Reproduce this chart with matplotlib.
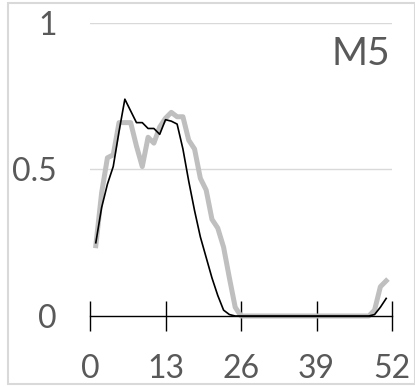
import matplotlib
matplotlib.use("Agg")
import matplotlib.pyplot as plt
from matplotlib.patches import Rectangle

weeks = list(range(1, 52))
gray_vals = [0.24, 0.42, 0.54, 0.55, 0.66, 0.66, 0.66, 0.58, 0.51, 0.61,
             0.59, 0.645, 0.675, 0.695, 0.68, 0.68, 0.60, 0.57, 0.47, 0.43,
             0.33, 0.30, 0.235, 0.13, 0.03, 0.0, 0.0, 0.0, 0.0, 0.0,
             0.0, 0.0, 0.0, 0.0, 0.0, 0.0, 0.0, 0.0, 0.0, 0.0,
             0.0, 0.0, 0.0, 0.0, 0.0, 0.0, 0.0, 0.0, 0.02, 0.10, 0.12]
black_vals = [0.25, 0.37, 0.45, 0.51, 0.63, 0.74, 0.70, 0.66, 0.66, 0.64,
              0.64, 0.62, 0.67, 0.665, 0.655, 0.57, 0.46, 0.36, 0.27, 0.20,
              0.13, 0.07, 0.02, 0.005, 0.0, 0.0, 0.0, 0.0, 0.0, 0.0,
              0.0, 0.0, 0.0, 0.0, 0.0, 0.0, 0.0, 0.0, 0.0, 0.0,
              0.0, 0.0, 0.0, 0.0, 0.0, 0.0, 0.0, 0.0, 0.005, 0.03, 0.06]
x_ticks = [0, 13, 26, 39, 52]
y_ticks = [0, 0.5, 1]
y_tick_labels = ["0", "0.5", "1"]
panel_label = "M5"

plt.rcParams['font.family'] = ['Lato', 'DejaVu Sans']

W, H = 415, 387
fig = plt.figure(figsize=(W / 100, H / 100), dpi=100)
fig.patches.append(Rectangle((8 / W, 3 / H), 1 - 8 / W - 0.5 / W, 1 - 6 / H,
                             transform=fig.transFigure, fill=False,
                             edgecolor='#d9d9d9', linewidth=1.5))

ax = fig.add_axes([90 / W, (H - 316) / H, (392 - 90) / W, (316 - 23) / H])
ax.set_xlim(0, 52)
ax.set_ylim(0, 1)
for s in ['top', 'right', 'left']:
    ax.spines[s].set_visible(False)
ax.spines['bottom'].set_color('black')
ax.spines['bottom'].set_linewidth(1.0)

for yv in [0.5, 1.0]:
    ax.axhline(yv, color='#d9d9d9', linewidth=1.0, zorder=0)

ax.plot(weeks, gray_vals, color='#bfbfbf', linewidth=3.6, zorder=2,
        solid_joinstyle='round', clip_on=False)
ax.plot(weeks, black_vals, color='black', linewidth=1.2, zorder=3, clip_on=False)

ax.set_xticks(x_ticks)
ax.set_xticklabels([str(v) for v in x_ticks])
ax.set_yticks(y_ticks)
ax.set_yticklabels(y_tick_labels)
ax.tick_params(axis='x', direction='inout', length=22, width=1.0, color='black',
               labelsize=23, labelcolor='#595959', pad=16)
ax.tick_params(axis='y', length=0, labelsize=23, labelcolor='#595959', pad=24)

ax.text(0.993, 0.895, panel_label, transform=ax.transAxes, ha='right', va='center',
        fontsize=28, color='#595959')

fig.savefig('out.png', dpi=100)
